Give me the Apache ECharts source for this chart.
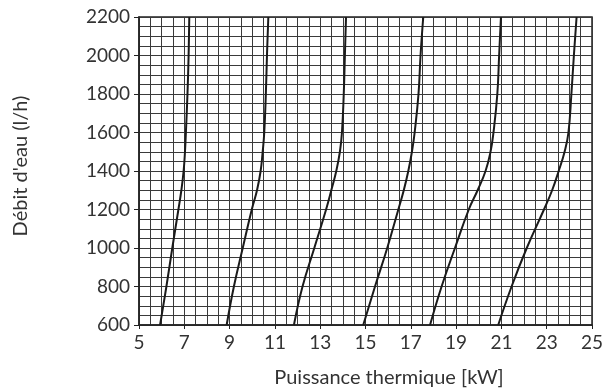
<!DOCTYPE html>
<html>
<head>
<meta charset="utf-8">
<script src="https://cdn.jsdelivr.net/npm/echarts@6/dist/echarts.min.js"></script>
<style>
  html, body { margin: 0; padding: 0; background: #fff; }
  #chart { width: 607px; height: 388px; }
</style>
</head>
<body>
<div id="chart"></div>
<script>
// Water flow levels (l/h) shared by every curve
const flows = [600, 800, 1000, 1200, 1300, 1400, 1500, 1600, 1800, 2000, 2200];

// Thermal power (kW) for each flow level, one array per curve
const curve1 = [5.93, 6.21, 6.47, 6.74, 6.87, 6.97, 7.03, 7.07, 7.14, 7.19, 7.22];
const curve2 = [8.87, 9.19, 9.58, 9.98, 10.21, 10.37, 10.46, 10.53, 10.60, 10.65, 10.71];
const curve3 = [11.84, 12.22, 12.74, 13.26, 13.49, 13.71, 13.87, 13.96, 14.04, 14.09, 14.14];
const curve4 = [14.90, 15.42, 15.96, 16.45, 16.69, 16.89, 17.05, 17.17, 17.34, 17.43, 17.55];
const curve5 = [17.85, 18.36, 18.95, 19.56, 19.95, 20.30, 20.52, 20.65, 20.82, 20.90, 20.98];
const curve6 = [20.86, 21.45, 22.12, 22.88, 23.24, 23.53, 23.79, 23.96, 24.09, 24.20, 24.32];

const curves = [curve1, curve2, curve3, curve4, curve5, curve6];

// Axis tick labels
const xTicks = [5, 7, 9, 11, 13, 15, 17, 19, 21, 23, 25];
const yTicks = [600, 800, 1000, 1200, 1400, 1600, 1800, 2000, 2200];

const FONT = 'Lato';
const gridColor = '#3a3a3a';

const chart = echarts.init(document.getElementById('chart'), null, { renderer: 'canvas' });

chart.setOption({
  animation: false,
  backgroundColor: '#fff',
  grid: {
    left: 139, right: 15, top: 17, bottom: 63,
    containLabel: false, outerBoundsMode: 'none',
    show: true, borderColor: '#222', borderWidth: 1.5, backgroundColor: 'transparent'
  },
  xAxis: {
    type: 'value',
    min: xTicks[0], max: xTicks[xTicks.length - 1], interval: 2,
    name: 'Puissance thermique [kW]',
    nameLocation: 'middle', nameGap: 43,
    nameTextStyle: { fontFamily: FONT, fontSize: 20, color: '#333', padding: [0, 0, 0, 47] },
    axisLine: { show: true, lineStyle: { color: '#222', width: 1.5 } },
    axisTick: { show: true, length: 4, lineStyle: { color: '#222' } },
    axisLabel: { fontFamily: FONT, fontSize: 19, color: '#333', margin: 8, formatter: v => String(v) },
    splitLine: { show: true, lineStyle: { color: gridColor, width: 1 } },
    minorTick: { show: false, splitNumber: 4 },
    minorSplitLine: { show: true, lineStyle: { color: gridColor, width: 1 } }
  },
  yAxis: {
    type: 'value',
    min: yTicks[0], max: yTicks[yTicks.length - 1], interval: 200,
    name: "Débit d'eau (l/h)",
    nameLocation: 'middle', nameGap: 108, nameRotate: 90,
    nameTextStyle: { fontFamily: FONT, fontSize: 20, color: '#333', padding: [0, 0, 0, 10] },
    axisLine: { show: true, lineStyle: { color: '#222', width: 1.5 } },
    axisTick: { show: true, length: 5, lineStyle: { color: '#222' } },
    axisLabel: { fontFamily: FONT, fontSize: 19, color: '#333', margin: 9, formatter: v => String(v) },
    splitLine: { show: true, lineStyle: { color: gridColor, width: 1 } },
    minorTick: { show: false, splitNumber: 4 },
    minorSplitLine: { show: true, lineStyle: { color: gridColor, width: 1 } }
  },
  series: curves.map(c => ({
    type: 'line',
    data: c.map((p, i) => [p, flows[i]]),
    smooth: 0.45,
    showSymbol: false,
    lineStyle: { color: '#1a1a1a', width: 2 },
    z: 5
  }))
});
</script>
</body>
</html>
